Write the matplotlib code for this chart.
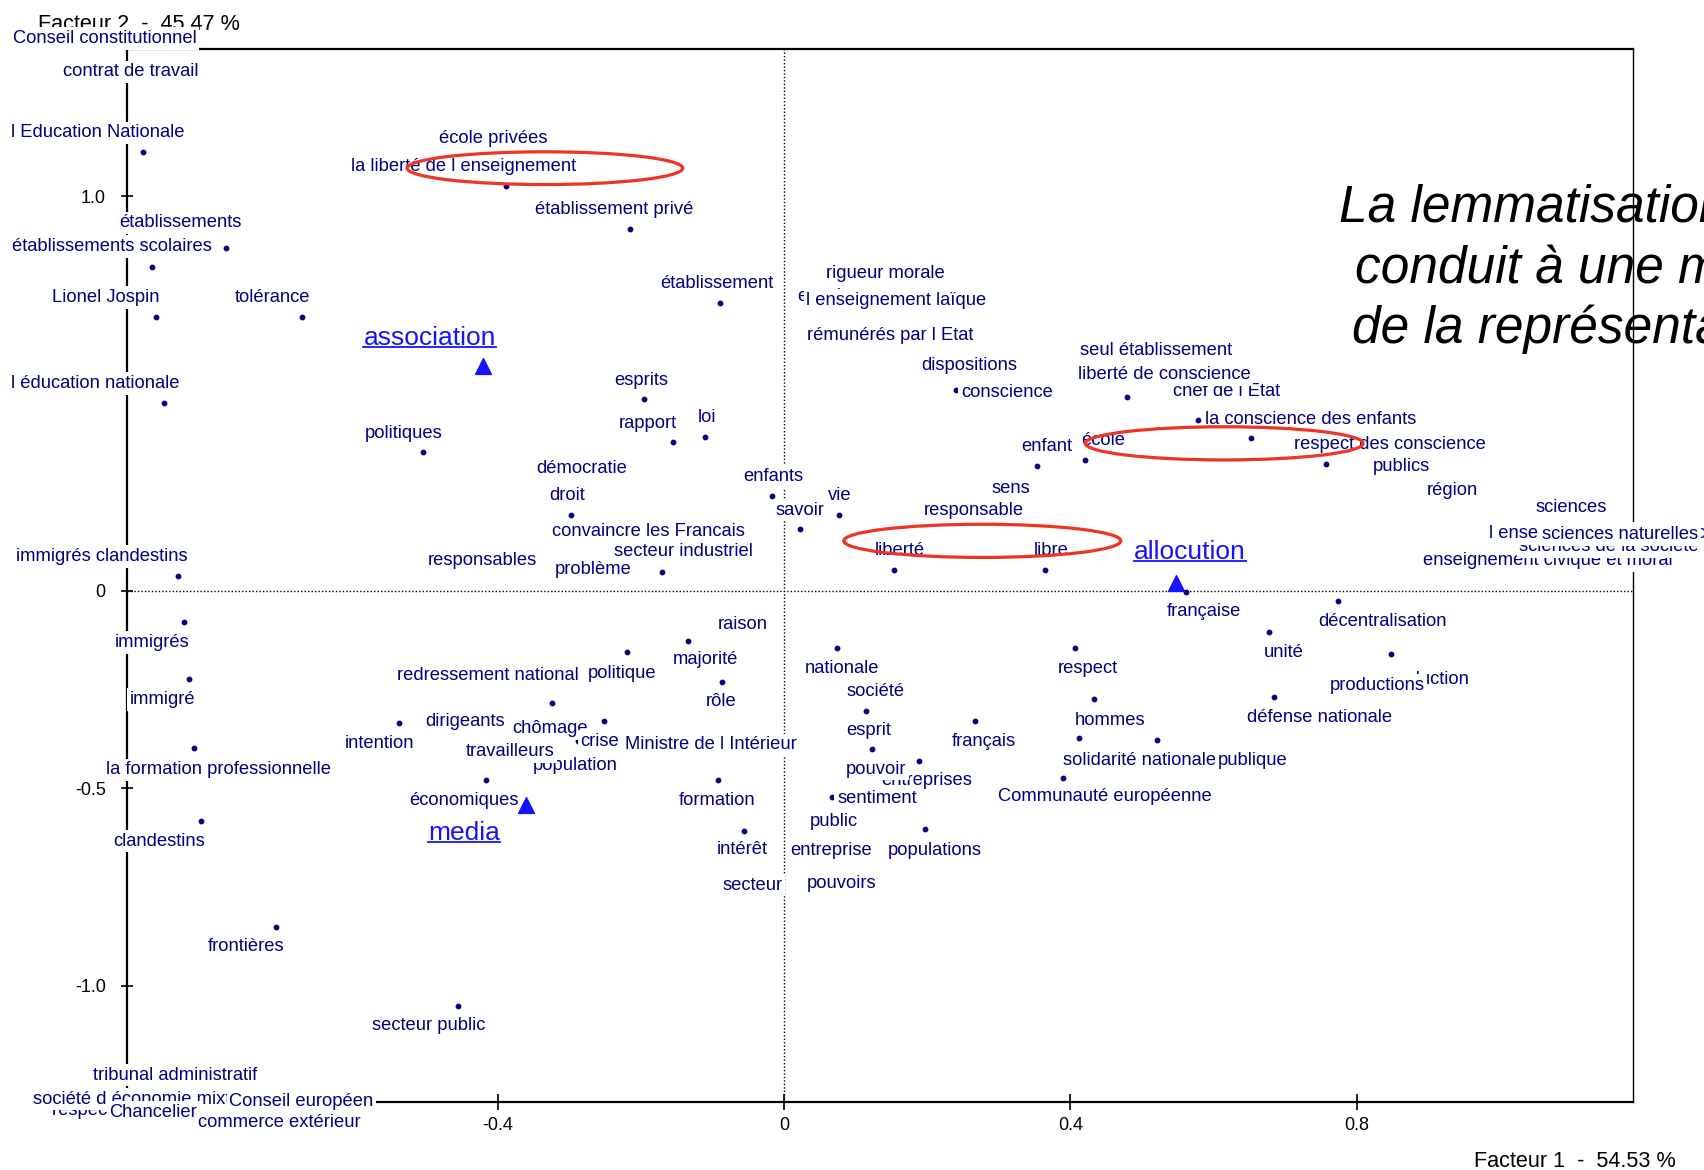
"""
Correspondence analysis map (Facteur 1 x Facteur 2) with lemmatised terms,
supplementary categories and the circled groups.
"""
import matplotlib
matplotlib.use("Agg")
import matplotlib.pyplot as plt
from matplotlib.patches import Ellipse
from matplotlib.lines import Line2D

plt.rcParams["font.family"] = ["Liberation Sans", "DejaVu Sans"]

NAVY = "#000080"
BLUE = "#1414ff"
RED = "#ee3524"

# ── terms: coordinates on factor 1 / factor 2 (list order = drawing order) ──
TERMS = [
    "Conseil constitutionnel", "contrat de travail", "l Education Nationale",
    "établissements", "établissements scolaires", "Lionel Jospin", "tolérance",
    "l éducation nationale", "immigrés clandestins", "immigrés", "immigré",
    "la formation professionnelle", "clandestins", "frontières", "secteur public",
    "tribunal administratif", "respect de la loi", "société d économie mixte",
    "Chancelier", "Conseil européen", "commerce extérieur",
    "école privées", "la liberté de l enseignement", "établissement privé",
    "établissement", "esprits", "rapport", "loi", "politiques", "démocratie",
    "droit", "convaincre les Francais", "responsables", "problème",
    "secteur industriel", "enfants", "vie", "savoir",
    "enseignement", "rigueur morale", "l enseignement laïque",
    "rémunérés par l Etat", "dispositions", "conscience", "chef de l Etat",
    "liberté de conscience", "seul établissement", "la conscience des enfants",
    "enfant", "école", "publics", "respect des conscience", "région", "sciences",
    "enseignement civique et moral", "sciences de la société",
    "l enseignement des sciences", "sciences naturelles", "sens", "responsable",
    "liberté", "libre",
    "française", "décentralisation", "unité", "production", "productions",
    "défense nationale", "respect", "hommes", "solidarité nationale", "publique",
    "Communauté européenne", "français",
    "raison", "majorité", "politique", "rôle", "redressement national",
    "dirigeants", "intention", "chômage", "population", "travailleurs", "crise",
    "Ministre de l Intérieur", "économiques", "formation", "intérêt", "secteur",
    "nationale", "société", "esprit", "entreprises", "pouvoir", "sentiment",
    "public", "entreprise", "populations", "pouvoirs",
]
FACT1 = [
    -0.949, -0.913, -0.896,
    -0.883, -0.780, -0.878, -0.674,
    -0.866, -0.846, -0.838, -0.831,
    -0.824, -0.815, -0.709, -0.455,
    -0.850, -0.933, -0.904,
    -0.881, -0.674, -0.705,
    -0.406, -0.388, -0.215,
    -0.090, -0.195, -0.155, -0.110, -0.504, -0.282,
    -0.297, -0.189, -0.422, -0.267,
    -0.171, -0.017, 0.077, 0.022,
    0.099, 0.141, 0.157,
    0.149, 0.259, 0.240, 0.479,
    0.531, 0.520, 0.578,
    0.354, 0.421, 0.862, 0.757, 0.934, 1.100,
    1.067, 1.153,
    1.150, 1.168, 0.317, 0.265,
    0.153, 0.365,
    0.561, 0.774, 0.678, 0.898, 0.848,
    0.685, 0.407, 0.433, 0.412, 0.521,
    0.390, 0.267,
    -0.134, -0.087, -0.219, -0.088, -0.324,
    -0.538, -0.565, -0.251, -0.292, -0.383, -0.288,
    -0.102, -0.416, -0.092, -0.056, -0.044,
    0.074, 0.114, 0.123, 0.200, 0.188, 0.067,
    0.069, 0.066, 0.197, 0.081,
]
FACT2 = [
    1.400, 1.315, 1.111,
    0.821, 0.868, 0.695, 0.695,
    0.475, 0.039, -0.079, -0.224,
    -0.398, -0.583, -0.850, -1.050,
    -1.226, -1.315, -1.287,
    -1.320, -1.294, -1.346,
    1.147, 1.027, 0.918,
    0.729, 0.486, 0.377, 0.391, 0.352, 0.311,
    0.193, 0.150, 0.076, 0.055,
    0.048, 0.241, 0.193, 0.157,
    0.745, 0.803, 0.737,
    0.648, 0.572, 0.509, 0.492,
    0.549, 0.608, 0.433,
    0.317, 0.332, 0.316, 0.322, 0.254, 0.211,
    0.077, 0.112,
    0.146, 0.142, 0.260, 0.205,
    0.053, 0.053,
    -0.002, -0.025, -0.105, -0.223, -0.160,
    -0.268, -0.145, -0.274, -0.372, -0.377,
    -0.474, -0.329,
    -0.126, -0.230, -0.155, -0.280, -0.284,
    -0.334, -0.386, -0.329, -0.443, -0.407, -0.380,
    -0.390, -0.479, -0.479, -0.607, -0.745,
    -0.145, -0.303, -0.401, -0.480, -0.430, -0.523,
    -0.583, -0.658, -0.603, -0.740,
]

# label placement relative to its point (pixels, y up)
LABEL_DX = [
    0, 0, -44.4,
    28.8, -114.2, -49.4, -29.1,
    -68.5, -76.5, -32, -27.1,
    24.1, -41.3, -30.8, -29.3,
    0, 0, 0,
    0, 0, 0,
    0, -43, -15.6,
    -2.6, -3.3, -25.4, 1.3, -19.1, 0,
    -4.1, 0, 0, 0,
    21.6, 1.1, 0.9, 0.4,
    0, 0, 0,
    0, 0, 51.1, 99.9,
    0, 0, 113.2,
    9.5, 17.5, 0, 64.4, 0, 0,
    0, 0,
    0, 0, 0, 0,
    6.1, 6.1,
    18.8, 44.9, 14.2, 0, -13.8,
    44.9, 12.6, 16.5, 60.3, 95.9,
    41.3, 8.5,
    54.5, -15.8, -5.6, 0, -64.5,
    66.3, 0, -54.3, 0, 0, 21.8,
    0, -22.6, -0.7, -1.3, 0,
    4.7, 9.7, -3.8, 0, -42.2, 44.9,
    0, 0, 9.8, 0,
]
LABEL_DY = [
    0, 0, 19.6,
    44, 1.6, 19, 19,
    20, 19, -20.4, -20,
    -21.7, -20, -20, -20.3,
    0, 0, 0,
    0, 0, 0,
    0, 19, 19.4,
    19.3, 18.3, 18.3, 19.4, 18.7, 0,
    19.3, 0, 0, 0,
    20.3, 19.3, 19, 19,
    0, 0, 0,
    0, 0, -2.3, 5.7,
    0, 0, 0.7,
    19.3, 19, 0, 19, 0, 0,
    0, 0,
    0, 0, 0, 0,
    20, 20,
    -20, -20.7, -20, 0, -31,
    -20.6, -20, -21, -23, -21,
    -18.4, -21,
    16.7, 22.7, -21, 0, 27.3,
    1, 0, -7.5, 0, 0, -0.7,
    0, -20, -20, -19.3, 0,
    -20.7, 19, 19.3, 0, -8.3, -1,
    0, 0, -21, 0,
]

# point whose label is not legible
EXTRA_X = [0.652]
EXTRA_Y = [0.387]

# ── supplementary categories ────────────────────────────────────────────────
SUPP_TERMS = ["association", "allocution", "media"]
SUPP_FACT1 = [-0.420, 0.548, -0.360]
SUPP_FACT2 = [0.570, 0.020, -0.542]
SUPP_DX = [-53.7, 13.4, -62.1]
SUPP_DY = [27.7, 30.6, -27.7]

# ── circled groups ──────────────────────────────────────────────────────────
ELL_X = [-0.334, 0.277, 0.615]
ELL_Y = [1.071, 0.127, 0.374]
ELL_W = [0.385, 0.387, 0.388]
ELL_H = [0.083, 0.084, 0.084]

XTICKS = [-0.8, -0.4, 0, 0.4, 0.8]
XTICK_LABELS = ["-0.8", "-0.4", "0", "0.4", "0.8"]
YTICKS = [-1.0, -0.5, 0, 1.0]
YTICK_LABELS = ["-1.0", "-0.5", "0", "1.0"]

W, H = 1704, 1170
fig = plt.figure(figsize=(W / 100, H / 100), dpi=100)
ax = fig.add_axes([127.4 / W, 1 - 1101.7 / H, (1633 - 127.4) / W, (1101.7 - 49.3) / H])
ax.set_xlim(-0.9173, 1.1861)
ax.set_ylim(-1.2936, 1.3721)

ax.axhline(0, color="black", lw=1, ls=(0, (1, 1.5)), zorder=1)
ax.axvline(0, color="black", lw=1, ls=(0, (1, 1.5)), zorder=1)

for side in ["top", "bottom", "left"]:
    ax.spines[side].set_linewidth(1.6)
ax.spines["right"].set_linewidth(1.0)

ax.set_xticks(XTICKS)
ax.set_xticklabels(XTICK_LABELS)
ax.set_yticks(YTICKS)
ax.set_yticklabels(YTICK_LABELS)
ax.tick_params(axis="x", direction="inout", length=12, width=1.2, pad=5, labelsize=13)
ax.tick_params(axis="y", direction="inout", length=9, width=1.2, pad=11, labelsize=13)

# points
ax.scatter(FACT1, FACT2, s=10, color=NAVY, zorder=2)
ax.scatter(EXTRA_X, EXTRA_Y, s=10, color=NAVY, zorder=2)

box = dict(boxstyle="square,pad=0.15", fc="white", ec="none")
for name, x, y, dx, dy in zip(TERMS, FACT1, FACT2, LABEL_DX, LABEL_DY):
    ax.annotate(name, (x, y), xytext=(dx, dy), textcoords="offset pixels",
                ha="center", va="center", fontsize=13.2, color=NAVY,
                bbox=box, annotation_clip=False, zorder=3)

ax.scatter(SUPP_FACT1, SUPP_FACT2, marker="^", s=130, color=BLUE, zorder=4)
supp_texts = []
for name, x, y, dx, dy in zip(SUPP_TERMS, SUPP_FACT1, SUPP_FACT2, SUPP_DX, SUPP_DY):
    t = ax.annotate(name, (x, y), xytext=(dx, dy), textcoords="offset pixels",
                    ha="center", va="center", fontsize=19, color=BLUE,
                    bbox=box, annotation_clip=False, zorder=4)
    supp_texts.append(t)

for x, y, w, h in zip(ELL_X, ELL_Y, ELL_W, ELL_H):
    ax.add_patch(Ellipse((x, y), w, h, fill=False, ec=RED, lw=2.3, zorder=5))

# axis titles
ax.text(38 / W, 1 - 29.5 / H, "Facteur 2  -  45.47 %", transform=fig.transFigure,
        ha="left", va="baseline", fontsize=15.6, zorder=2.9, clip_on=False)
ax.text(1676 / W, 1 - 1166.7 / H, "Facteur 1  -  54.53 %", transform=fig.transFigure,
        ha="right", va="baseline", fontsize=15.6, zorder=2.9, clip_on=False)

# comment on the right, running off the slide
for txt, xp, yp in [("La lemmatisation", 1339, 221.7),
                    ("conduit à une meilleure", 1354.7, 283.3),
                    ("de la représentation", 1352.5, 343.3)]:
    ax.text(xp / W, 1 - yp / H, txt, transform=fig.transFigure, ha="left",
            va="baseline", fontsize=37, style="italic", zorder=1, clip_on=False)

# underline the supplementary labels
fig.canvas.draw()
renderer = fig.canvas.get_renderer()
for t in supp_texts:
    bb = t.get_window_extent(renderer)
    yl = (bb.y0 + 3) / H
    fig.add_artist(Line2D([bb.x0 / W, bb.x1 / W], [yl, yl], color=BLUE, lw=1.3))

plt.savefig("out.png", dpi=100)
plt.close()
